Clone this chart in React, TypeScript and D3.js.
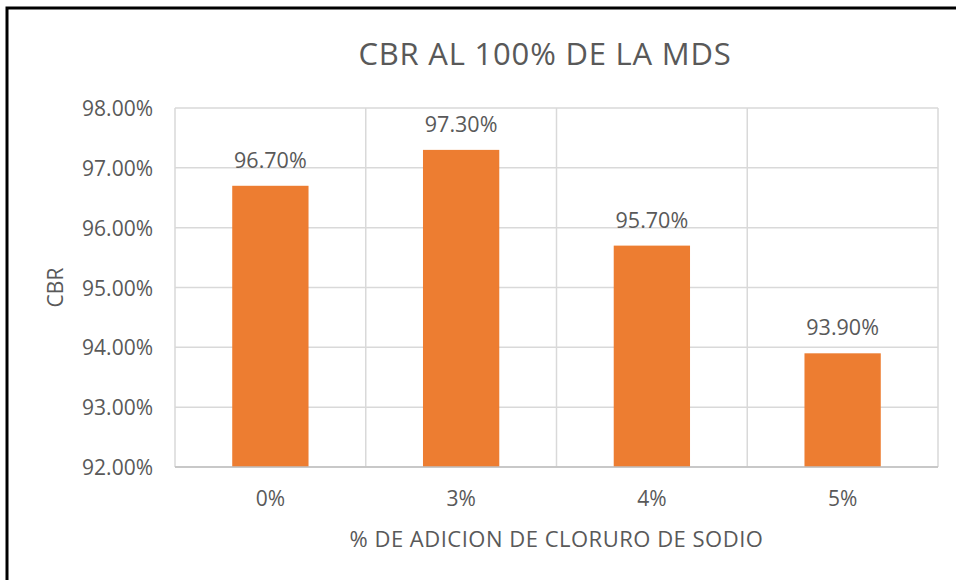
import React, { useEffect, useRef } from "react";
import * as d3 from "d3";

const categories = ["0%", "3%", "4%", "5%"];
const cbrValues = [96.7, 97.3, 95.7, 93.9];
const yTicks = [92, 93, 94, 95, 96, 97, 98];

const chartTitle = "CBR AL 100% DE LA MDS";
const xTitle = "% DE ADICION DE CLORURO DE SODIO";
const yTitle = "CBR";

export default function App() {
  const svgRef = useRef<SVGSVGElement>(null);

  useEffect(() => {
    const w = 956;
    const h = 580;
    const m = { top: 108, right: 18, bottom: 113, left: 175 };
    const font = "'Open Sans', 'Noto Sans', sans-serif";
    const textCol = "#595959";

    const svg = d3.select(svgRef.current).attr("width", w).attr("height", h);
    svg.selectAll("*").remove();

    svg.append("rect").attr("width", w).attr("height", h).attr("fill", "#fff");

    // outer frame (only left and top edges show in the crop)
    svg.append("path")
      .attr("d", `M7,${h + 5} V8 H${w + 5}`)
      .attr("fill", "none")
      .attr("stroke", "#000")
      .attr("stroke-width", 3);

    const x = d3.scaleBand()
      .domain(categories)
      .range([m.left, w - m.right])
      .paddingInner(0.6)
      .paddingOuter(0.3);

    const y = d3.scaleLinear()
      .domain([92, 98])
      .range([h - m.bottom, m.top]);

    // horizontal gridlines
    svg.append("g")
      .selectAll("line")
      .data(yTicks)
      .join("line")
      .attr("x1", m.left)
      .attr("x2", w - m.right)
      .attr("y1", (d) => y(d))
      .attr("y2", (d) => y(d))
      .attr("stroke", "#d9d9d9")
      .attr("stroke-width", 1.5);

    // vertical gridlines at category borders
    const step = x.step();
    const borders = d3.range(categories.length + 1).map((i) => m.left + i * step);
    svg.append("g")
      .selectAll("line")
      .data(borders)
      .join("line")
      .attr("x1", (d) => d)
      .attr("x2", (d) => d)
      .attr("y1", m.top)
      .attr("y2", h - m.bottom)
      .attr("stroke", "#d9d9d9")
      .attr("stroke-width", 1.5);

    // bars
    svg.append("g")
      .selectAll("rect")
      .data(cbrValues)
      .join("rect")
      .attr("x", (d, i) => x(categories[i])!)
      .attr("y", (d) => y(d))
      .attr("width", x.bandwidth())
      .attr("height", (d) => y(92) - y(d))
      .attr("fill", "#ED7D31");

    // bottom axis line
    svg.append("line")
      .attr("x1", m.left)
      .attr("x2", w - m.right)
      .attr("y1", y(92))
      .attr("y2", y(92))
      .attr("stroke", "#bfbfbf")
      .attr("stroke-width", 1.5);

    // data labels
    svg.append("g")
      .selectAll("text")
      .data(cbrValues)
      .join("text")
      .attr("x", (d, i) => x(categories[i])! + x.bandwidth() / 2)
      .attr("y", (d) => y(d) - 18)
      .attr("text-anchor", "middle")
      .attr("font-family", font)
      .attr("font-size", 21.5)
      .attr("fill", textCol)
      .text((d) => d.toFixed(2) + "%");

    // y tick labels
    svg.append("g")
      .selectAll("text")
      .data(yTicks)
      .join("text")
      .attr("x", 153)
      .attr("y", (d) => y(d) + 8)
      .attr("text-anchor", "end")
      .attr("font-family", font)
      .attr("font-size", 21)
      .attr("fill", textCol)
      .text((d) => d.toFixed(2) + "%");

    // x tick labels
    svg.append("g")
      .selectAll("text")
      .data(categories)
      .join("text")
      .attr("x", (d) => x(d)! + x.bandwidth() / 2)
      .attr("y", 506)
      .attr("text-anchor", "middle")
      .attr("font-family", font)
      .attr("font-size", 21)
      .attr("fill", textCol)
      .text((d) => d);

    svg.append("text")
      .attr("x", 545)
      .attr("y", 65)
      .attr("text-anchor", "middle")
      .attr("font-family", font)
      .attr("font-size", 31)
      .attr("letter-spacing", 0.8)
      .attr("fill", textCol)
      .text(chartTitle);

    svg.append("text")
      .attr("x", (m.left + w - m.right) / 2)
      .attr("y", 547)
      .attr("text-anchor", "middle")
      .attr("font-family", font)
      .attr("font-size", 22)
      .attr("letter-spacing", 0.5)
      .attr("fill", textCol)
      .text(xTitle);

    svg.append("text")
      .attr("transform", `translate(63, ${(m.top + h - m.bottom) / 2}) rotate(-90)`)
      .attr("text-anchor", "middle")
      .attr("font-family", font)
      .attr("font-size", 21)
      .attr("fill", textCol)
      .text(yTitle);
  }, []);

  return (
    <div style={{ position: "absolute", left: 0, top: 0 }}>
      <svg ref={svgRef} style={{ display: "block" }}></svg>
    </div>
  );
}
